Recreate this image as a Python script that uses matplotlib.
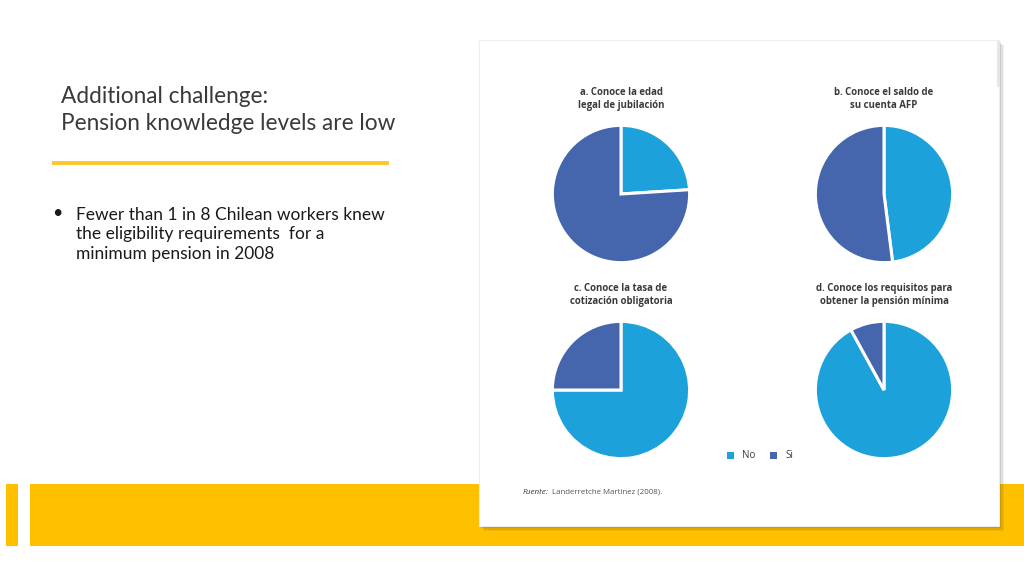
import numpy as np
import matplotlib
matplotlib.use("Agg")
import matplotlib.pyplot as plt
from matplotlib.patches import Rectangle

# data
titles = ["a. Conoce la edad\nlegal de jubilación",
          "b. Conoce el saldo de\nsu cuenta AFP",
          "c. Conoce la tasa de\ncotización obligatoria",
          "d. Conoce los requisitos para\nobtener la pensión mínima"]
labels = ["No", "Si"]
no_share = [24, 48, 75, 92]
si_share = [76, 52, 25, 8]

slide_title = "Additional challenge:\nPension knowledge levels are low"
bullet = ("Fewer than 1 in 8 Chilean workers knew\n"
          "the eligibility requirements  for a\n"
          "minimum pension in 2008")
source = "Landerretche Martinez (2008)."

c_no = "#1ca1db"
c_si = "#4565ad"
yellow = "#ffc000"
W, H = 1024, 576

fig = plt.figure(figsize=(W / 100, H / 100), dpi=100)
bg = fig.add_axes([0, 0, 1, 1])
bg.set_xlim(0, W)
bg.set_ylim(H, 0)
bg.axis("off")

# yellow band at the bottom
bg.add_patch(Rectangle((6, 484), 12, 62, color=yellow, lw=0))
bg.add_patch(Rectangle((30, 484), W - 30, 62, color=yellow, lw=0))

# card with soft shadow
for i, a in enumerate([0.05, 0.07, 0.10]):
    d = 5 - i * 1.5
    bg.add_patch(Rectangle((479 + d, 40 + d), 520, 486, color="black", alpha=a, lw=0))
bg.add_patch(Rectangle((479, 40), 520, 486, facecolor="white", edgecolor="#eeeeee", lw=0.8))
bg.plot([998, 998], [42, 85], color="#e6e6e6", lw=2)

# left side text
bg.text(61, 110, slide_title, fontsize=16.3, family="Lato", color="#3a3a3a",
        va="center", ha="left", linespacing=1.4)
bg.plot([52, 389], [163, 163], color="#fdbf17", lw=2.8, alpha=0.9, solid_capstyle="butt")
bg.text(52, 213, "•", fontsize=13, family="Lato", va="center", ha="left", color="#1a1a1a")
bg.text(76, 234.5, bullet, fontsize=12.5, family="Lato", va="center", ha="left",
        color="#1a1a1a", linespacing=1.3)

# pies
centers = [(621, 194), (884, 194), (621, 390), (884, 390)]
r = 70
for (cx, cy), t, n, s in zip(centers, titles, no_share, si_share):
    ax = fig.add_axes([(cx - r) / W, 1 - (cy + r) / H, 2 * r / W, 2 * r / H])
    ax.pie([n, s], colors=[c_no, c_si], startangle=90, counterclock=False,
           wedgeprops=dict(edgecolor="white", linewidth=2.2))
    ax.set_xlim(-1.02, 1.02)
    ax.set_ylim(-1.02, 1.02)
    ax.set_aspect("equal")
    bg.text(cx, cy - 95, t, fontsize=6.9, family="Open Sans", fontweight="bold",
            color="#3a3a3a", ha="center", va="center", linespacing=1.35)

# legend
for x0, lab, c in [(727, labels[0], c_no), (770, labels[1], c_si)]:
    bg.add_patch(Rectangle((x0, 452), 7, 7, color=c, lw=0))
    bg.text(x0 + 15, 455.5, lab, fontsize=7, family="Open Sans", color="#3a3a3a",
            va="center", ha="left")

# source
bg.text(523, 492, "Fuente:", fontsize=5.8, family="Open Sans", style="italic",
        color="#333333", va="center", ha="left")
bg.text(552, 492, source, fontsize=5.7, family="Open Sans", color="#555555",
        va="center", ha="left")

fig.savefig("out.png", dpi=100)
